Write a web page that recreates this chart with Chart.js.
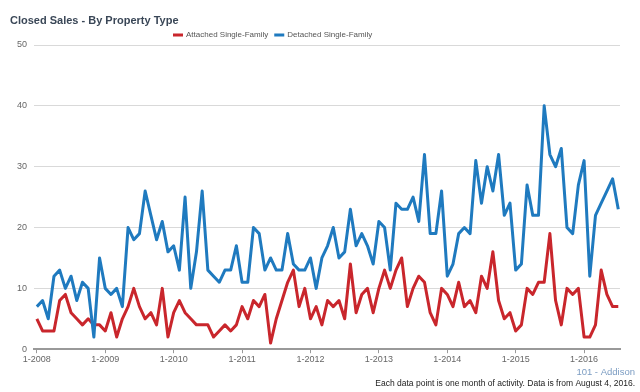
<!DOCTYPE html>
<html>
<head>
<meta charset="utf-8">
<script src="https://cdn.jsdelivr.net/npm/chart.js@4"></script>
<style>
  body { margin: 0; background: #fff; }
</style>
</head>
<body>
<canvas id="mysaleschart" width="640" height="392"></canvas>
<script>
const yearLabels = ['1-2008', '1-2009', '1-2010', '1-2011', '1-2012', '1-2013', '1-2014', '1-2015', '1-2016']

// monthly closed sales, Jan 2008 .. Jul 2016
const attached = [
    5, 3, 3, 3, 8, 9, 6, 5, 4, 5, 4, 4,
    3, 6, 2, 5, 7, 10, 7, 5, 6, 4, 10, 2,
    6, 8, 6, 5, 4, 4, 4, 2, 3, 4, 3, 4,
    7, 5, 8, 7, 9, 1, 5, 8, 11, 13, 7, 10,
    5, 7, 4, 8, 7, 8, 5, 14, 6, 9, 10, 6,
    10, 13, 10, 13, 15, 7, 10, 12, 11, 6, 4, 10,
    9, 7, 11, 7, 8, 6, 12, 10, 16, 8, 5, 6,
    3, 4, 10, 9, 11, 11, 19, 8, 4, 10, 9, 10,
    2, 2, 4, 13, 9, 7, 7
]
const detached = [
    7, 8, 5, 12, 13, 10, 12, 8, 11, 10, 2, 15,
    10, 9, 10, 7, 20, 18, 19, 26, 22, 18, 21, 16,
    17, 13, 25, 10, 16, 26, 13, 12, 11, 13, 13, 17,
    11, 11, 20, 19, 13, 15, 13, 13, 19, 14, 13, 13,
    15, 10, 15, 17, 20, 15, 16, 23, 17, 19, 17, 14,
    21, 20, 13, 24, 23, 23, 25, 21, 32, 19, 19, 26,
    12, 14, 19, 20, 19, 31, 24, 30, 26, 32, 22, 24,
    13, 14, 27, 22, 22, 40, 32, 30, 33, 20, 19, 27,
    31, 12, 22, 24, 26, 28, 23
]

const fontFamily = '"Liberation Sans", Arial, sans-serif'
const areaName = '101 - Addison'
const footNote = 'Each data point is one month of activity. Data is from August 4, 2016.'

// legend + footer text, drawn by hand so it sits where the original has it
const extraText = {
    id: 'extraText',
    afterDraw(chart) {
        const ctx = chart.ctx
        ctx.save()
        ctx.textBaseline = 'middle'
        ctx.font = '8px ' + fontFamily
        let x = 173
        chart.data.datasets.forEach(function(ds) {
            ctx.fillStyle = ds.borderColor
            ctx.fillRect(x, 33.5, 10, 3)
            ctx.fillStyle = '#555'
            ctx.textAlign = 'left'
            ctx.fillText(ds.label, x + 13, 35)
            x += 13 + ctx.measureText(ds.label).width + 6
        })
        ctx.textAlign = 'right'
        ctx.font = '9.5px ' + fontFamily
        ctx.fillStyle = '#7b9cc2'
        ctx.fillText(areaName, 635, 372)
        ctx.font = '8.5px ' + fontFamily
        ctx.fillStyle = '#222'
        ctx.fillText(footNote, 635, 384)
        ctx.restore()
    }
}

function drawsaleschart(){
    const canvas = document.getElementById('mysaleschart')
    new Chart(canvas, {
        type: 'line',
        data: {
            datasets: [{
                label: 'Attached Single-Family',
                data: attached.map((v, i) => ({x: i, y: v})),
                borderColor: '#c9262c',
                borderWidth: 3,
                order: 1
            }, {
                label: 'Detached Single-Family',
                data: detached.map((v, i) => ({x: i, y: v})),
                borderColor: '#1f7abf',
                borderWidth: 3,
                order: 0
            }]
        },
        options: {
            responsive: false,
            animation: false,
            layout: {
                padding: {left: 10, right: 20, top: 0, bottom: 26}
            },
            elements: {
                point: {radius: 0},
                line: {tension: 0, fill: false, borderJoinStyle: 'round'}
            },
            plugins: {
                legend: {display: false},
                tooltip: {enabled: false},
                title: {
                    display: true,
                    text: 'Closed Sales - By Property Type',
                    align: 'start',
                    color: '#3a4757',
                    font: {family: fontFamily, size: 11, weight: 'bold'},
                    padding: {top: 14.5, bottom: 17.3}
                }
            },
            scales: {
                x: {
                    type: 'linear',
                    min: -0.5,
                    max: 102.3,
                    afterBuildTicks: function(axis) {
                        axis.ticks = yearLabels.map((l, i) => ({value: i * 12}))
                    },
                    grid: {drawOnChartArea: false, tickLength: 4, color: '#999'},
                    border: {display: true, color: '#999', width: 2},
                    ticks: {
                        autoSkip: false,
                        maxRotation: 0,
                        padding: 1,
                        color: '#666',
                        font: {family: fontFamily, size: 9},
                        callback: function(value) {
                            return yearLabels[value / 12]
                        }
                    }
                },
                y: {
                    min: 0,
                    max: 50,
                    ticks: {
                        stepSize: 10,
                        padding: 7,
                        color: '#666',
                        font: {family: fontFamily, size: 9}
                    },
                    grid: {color: '#d9d9d9', drawTicks: false},
                    border: {display: false}
                }
            }
        },
        plugins: [extraText]
    })
}
drawsaleschart()
</script>
</body>
</html>
